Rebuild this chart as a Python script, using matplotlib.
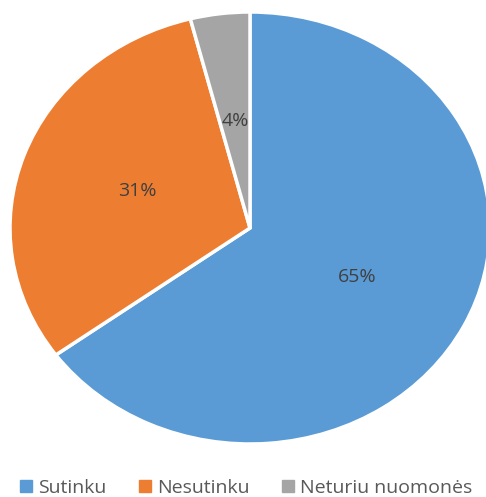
import matplotlib.pyplot as plt
from matplotlib.lines import Line2D

categories = ["Sutinku", "Nesutinku", "Neturiu nuomonės"]
shares = [65, 31, 4]
colors = ["#5B9BD5", "#ED7D31", "#A5A5A5"]

fig = plt.figure(figsize=(4.86, 4.97), dpi=100)
W, H = 486, 497
ax = fig.add_axes([10 / W, 1 - 444 / H, 480 / W, 432 / H])

wedges, texts, autotexts = ax.pie(
    shares,
    colors=colors,
    startangle=90,
    counterclock=False,
    autopct=lambda p: f"{p:.0f}%",
    pctdistance=0.5,
    wedgeprops=dict(edgecolor="white", linewidth=2.5),
    textprops=dict(color="#404040", fontsize=14, family="Open Sans"),
)
ax.set_aspect("auto")
ax.set_xlim(-1, 1)
ax.set_ylim(-1, 1)
ax.axis("off")

handles = [Line2D([], [], marker="s", linestyle="none", markersize=8,
                  markerfacecolor=c, markeredgecolor=c) for c in colors]
fig.legend(handles, categories, loc="center left", bbox_to_anchor=(0.006, 0.018),
           ncol=3, frameon=False, handlelength=0.6, handletextpad=0.3,
           columnspacing=1.7, prop=dict(family="Open Sans", size=14),
           labelcolor="#595959")

fig.savefig("out.png", dpi=100)
